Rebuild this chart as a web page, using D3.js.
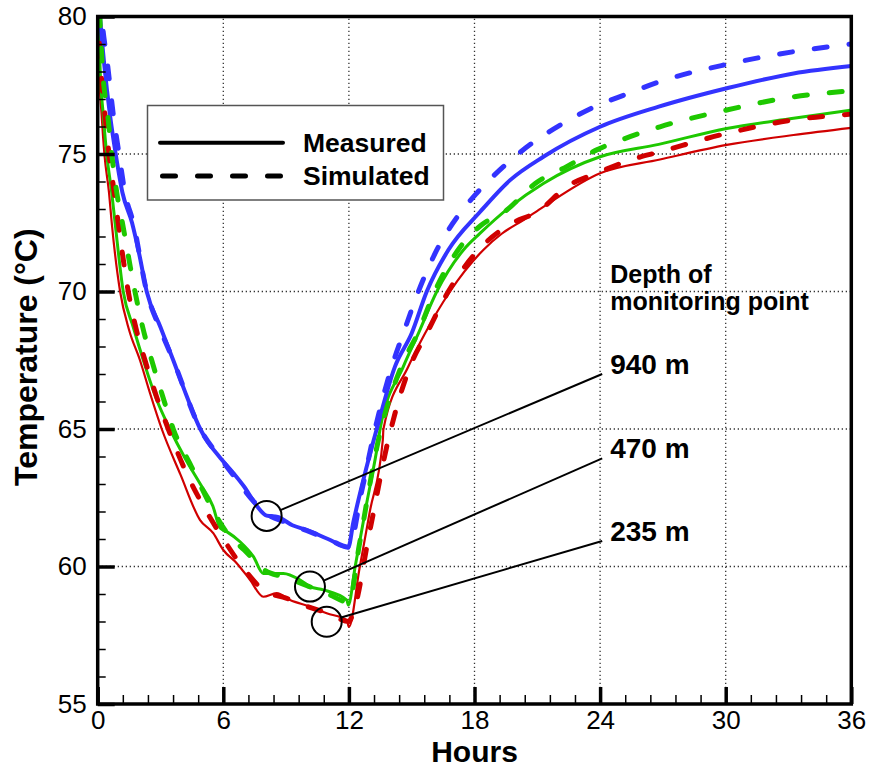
<!DOCTYPE html>
<html>
<head>
<meta charset="utf-8">
<script src="https://cdn.jsdelivr.net/npm/d3@7"></script>
<style>
  body { margin: 0; background: #fff; }
  svg { display: block; font-family: Arial, "Liberation Sans", Helvetica, sans-serif; }
</style>
</head>
<body>
<div id="chart"></div>
<script>
// ticks
let hourTicks = [0, 6, 12, 18, 24, 30, 36];
let tempTicks = [55, 60, 65, 70, 75, 80];

// [hours, temperature]
let measured940 = [[0,81.2],[0.11,80.0],[0.32,78.2],[0.59,76.4],[0.86,75.0],[1.18,73.6],[1.64,72.5],[2.0,71.3],[2.34,70.0],[3.0,68.7],[3.61,67.5],[4.25,66.2],[4.9,65.0],[5.2,64.6],[5.8,64.0],[6.48,63.4],[7.0,62.9],[7.6,62.2],[8.07,61.85],[8.6,61.8],[9.3,61.5],[9.98,61.33],[11.0,61.0],[11.97,60.7],[12.21,61.6],[12.69,63.15],[13.33,65.0],[14.2,67.27],[15.0,68.48],[15.72,70.0],[16.75,71.51],[18.27,72.9],[19.7,74.05],[21.29,74.9],[24.0,75.99],[26.8,76.72],[30.05,77.39],[33.24,77.93],[36,78.2]];
let simulated940 = [[0,82.0],[0.19,80.0],[0.48,78.2],[0.75,76.4],[1.02,75.0],[1.3,73.6],[1.7,72.5],[2.34,70.0],[3.0,68.6],[3.61,67.5],[4.9,65.0],[5.8,64.0],[6.5,63.3],[7.3,62.5],[8.0,61.95],[9.0,61.6],[10.0,61.3],[11.0,61.0],[12.0,60.7],[12.6,62.7],[13.25,65.0],[14.05,67.27],[14.6,68.48],[15.32,70.0],[16.2,71.51],[17.3,72.84],[18.1,73.57],[19.38,74.54],[20.74,75.39],[22.09,76.05],[23.68,76.7],[25.27,77.18],[26.8,77.62],[30.05,78.26],[33.24,78.72],[36,79.0]];
let measured470 = [[0,80.6],[0.06,80.0],[0.11,78.2],[0.27,76.4],[0.43,75.0],[0.67,73.6],[0.83,72.5],[1.22,70.0],[1.7,68.7],[2.18,67.5],[2.8,66.1],[3.45,65.0],[4.2,63.9],[4.9,63.0],[5.5,62.2],[5.85,61.4],[6.2,61.25],[6.8,60.9],[7.44,60.36],[7.91,59.75],[8.87,59.75],[9.67,59.51],[10.14,59.27],[10.78,59.15],[11.9,58.78],[11.97,58.6],[12.3,60.0],[12.8,62.1],[13.41,64.6],[13.49,65.0],[14.6,67.27],[15.32,68.48],[16.2,70.0],[17.47,71.51],[18.27,72.12],[19.7,73.08],[21.29,73.93],[24.0,74.9],[26.8,75.35],[30.05,75.93],[33.24,76.3],[36,76.6]];
let simulated470 = [[0,81.4],[0.1,80.0],[0.22,78.2],[0.48,76.4],[0.67,75.0],[0.91,73.6],[1.18,72.5],[1.78,70.0],[2.15,68.7],[2.58,67.5],[3.1,66.2],[3.61,65.0],[4.5,63.6],[5.4,62.2],[6.2,61.2],[7.0,60.6],[8.0,59.85],[9.0,59.6],[10.0,59.3],[11.0,59.0],[12.0,58.7],[12.5,60.8],[13.41,64.6],[14.5,67.27],[15.3,68.5],[16.1,70.0],[17.3,71.6],[18.3,72.4],[19.54,72.96],[20.9,73.93],[22.4,74.54],[23.84,75.15],[25.43,75.63],[26.86,75.99],[30.05,76.6],[33.24,77.08],[36,77.3]];
let measured235 = [[0,80.2],[0.03,80.0],[0.06,78.2],[0.19,76.4],[0.32,75.0],[0.54,73.6],[0.67,72.5],[1.07,70.0],[1.5,68.6],[2.02,67.5],[2.5,66.3],[3.06,65.0],[3.95,63.35],[4.89,61.69],[5.52,61.21],[6.0,60.6],[6.64,60.12],[7.28,59.51],[7.91,58.9],[8.55,59.03],[9.19,58.78],[10.14,58.54],[10.94,58.3],[11.9,58.05],[12.0,57.8],[12.5,59.9],[13.0,62.0],[13.62,64.6],[13.65,65.0],[14.84,67.27],[15.64,68.48],[16.83,70.0],[18.42,71.51],[19.3,72.1],[20.34,72.6],[21.29,73.08],[24.0,74.3],[26.86,74.8],[30.05,75.33],[33.24,75.69],[36,75.95]];
let simulated235 = [[0,80.3],[0.14,78.2],[0.35,76.4],[0.54,75.0],[0.79,73.6],[0.98,72.5],[1.46,70.0],[1.85,68.6],[2.26,67.5],[2.8,66.2],[3.37,65.0],[4.3,63.3],[5.2,62.0],[6.0,61.0],[7.0,59.9],[8.0,59.1],[9.0,58.85],[10.0,58.55],[11.0,58.3],[12.0,58.0],[12.2,58.3],[13.0,61.3],[13.88,64.6],[14.92,67.27],[15.72,68.48],[16.75,70.0],[18.3,71.6],[19.6,72.4],[21.13,72.96],[22.4,73.81],[23.84,74.3],[25.43,74.78],[26.86,75.08],[30.05,75.75],[33.24,76.24],[36,76.45]];

// depth labels: circle on curve, line end, label text
let depthLabels = ["940 m", "470 m", "235 m"];
let circlePoints = [[8.07, 61.84], [10.14, 59.27], [10.94, 57.99]];
let labelPoints = [[24.1, 67.0], [24.1, 63.93], [24.1, 60.93]];

let width = 869, height = 767;
let margin = {top: 16.5, right: 17.7, bottom: 63, left: 97.7};

let svg = d3.select("#chart").append("svg")
    .attr("width", width)
    .attr("height", height);

let x = d3.scaleLinear().domain([0, 36]).range([margin.left, width - margin.right]);
let y = d3.scaleLinear().domain([55, 80]).range([height - margin.bottom, margin.top]);

svg.append("clipPath").attr("id", "plot")
  .append("rect")
    .attr("x", x(0)).attr("y", y(80))
    .attr("width", x(36) - x(0)).attr("height", y(55) - y(80));

// dotted grid
let grid = svg.append("g").attr("stroke", "#333").attr("stroke-width", 1.3).attr("stroke-dasharray", "1.3,2.7");
grid.selectAll(".vx").data(hourTicks.slice(1, -1)).join("line")
    .attr("x1", d => x(d)).attr("x2", d => x(d))
    .attr("y1", y(55)).attr("y2", y(80));
grid.selectAll(".hy").data(tempTicks.slice(1, -1)).join("line")
    .attr("x1", x(0)).attr("x2", x(36))
    .attr("y1", d => y(d)).attr("y2", d => y(d));

// legend box (covers grid)
let legend = svg.append("g");
legend.append("rect")
    .attr("x", 147.5).attr("y", 105.5).attr("width", 296).attr("height", 94.5)
    .attr("fill", "#fff").attr("stroke", "#555").attr("stroke-width", 1.5);
legend.append("line")
    .attr("x1", 160).attr("x2", 283).attr("y1", 142.7).attr("y2", 142.7)
    .attr("stroke", "#000").attr("stroke-width", 4).attr("stroke-linecap", "round");
legend.append("line")
    .attr("x1", 162.5).attr("x2", 283).attr("y1", 176).attr("y2", 176)
    .attr("stroke", "#000").attr("stroke-width", 5).attr("stroke-linecap", "round")
    .attr("stroke-dasharray", "13,22");
legend.append("text").attr("x", 303).attr("y", 152).text("Measured")
    .attr("font-size", 26.5).attr("font-weight", "bold");
legend.append("text").attr("x", 303).attr("y", 185).text("Simulated")
    .attr("font-size", 26.5).attr("font-weight", "bold");

let line = d3.line().x(d => x(d[0])).y(d => y(d[1])).curve(d3.curveMonotoneX);

let series = [
  {data: measured235, color: "#d00000", dashed: false, w: 2.2},
  {data: measured470, color: "#1ec800", dashed: false, w: 3},
  {data: measured940, color: "#3333ff", dashed: false, w: 4},
  {data: simulated235, color: "#d00000", dashed: true, w: 5},
  {data: simulated470, color: "#1ec800", dashed: true, w: 5},
  {data: simulated940, color: "#3333ff", dashed: true, w: 5}
];

svg.append("g").attr("clip-path", "url(#plot)")
  .selectAll("path").data(series).join("path")
    .attr("d", d => line(d.data))
    .attr("fill", "none")
    .attr("stroke", d => d.color)
    .attr("stroke-width", d => d.w)
    .attr("stroke-linecap", d => d.dashed ? "round" : "butt")
    .attr("stroke-linejoin", "round")
    .attr("stroke-dasharray", d => d.dashed ? "13,22" : null);

// callouts
let callouts = svg.append("g");
callouts.selectAll("circle").data(circlePoints).join("circle")
    .attr("cx", d => x(d[0])).attr("cy", d => y(d[1])).attr("r", 15)
    .attr("fill", "none").attr("stroke", "#000").attr("stroke-width", 2);
callouts.selectAll("line").data(circlePoints).join("line")
    .each(function(d, i) {
      let cx = x(d[0]), cy = y(d[1]);
      let ex = x(labelPoints[i][0]), ey = y(labelPoints[i][1]);
      let a = Math.atan2(ey - cy, ex - cx);
      d3.select(this)
        .attr("x1", cx + 15 * Math.cos(a)).attr("y1", cy + 15 * Math.sin(a))
        .attr("x2", ex).attr("y2", ey);
    })
    .attr("stroke", "#000").attr("stroke-width", 2);
callouts.selectAll("text").data(labelPoints).join("text")
    .attr("x", d => x(d[0]) + 8).attr("y", d => y(d[1]))
    .attr("font-size", 28).attr("font-weight", "bold")
    .text((d, i) => depthLabels[i]);

let depthTitle = svg.append("text")
    .attr("x", x(24.1) + 8).attr("y", y(70.3))
    .attr("font-size", 25).attr("font-weight", "bold");
depthTitle.append("tspan").text("Depth of");
depthTitle.append("tspan").attr("x", x(24.1) + 8).attr("dy", 26.5).text("monitoring point");

// axes
let minorX = d3.range(0, 36.01, 1.2).filter(v => Math.abs(v / 6 - Math.round(v / 6)) > 1e-6);
let minorY = d3.range(55, 80.01, 1).filter(v => v % 5 !== 0);

let styleAxis = (g, w) => {
  g.select(".domain").remove();
  g.selectAll(".tick line").attr("stroke", "#000").attr("stroke-width", w);
  g.selectAll(".tick text").attr("fill", "#000").attr("font-size", 26)
    .attr("font-family", "Arial, 'Liberation Sans', Helvetica, sans-serif");
};

svg.append("g").attr("transform", `translate(0,${y(55)})`)
  .call(d3.axisBottom(x).tickValues(minorX).tickSize(-9).tickFormat(""))
  .call(g => styleAxis(g, 1.5));
svg.append("g").attr("transform", `translate(${x(0)},0)`)
  .call(d3.axisLeft(y).tickValues(minorY).tickSize(-8).tickFormat(""))
  .call(g => styleAxis(g, 1.5));
svg.append("g").attr("transform", `translate(0,${y(55)})`)
  .call(d3.axisBottom(x).tickValues(hourTicks).tickSize(-17).tickPadding(7).tickFormat(d3.format("d")))
  .call(g => styleAxis(g, 3.5));
svg.append("g").attr("transform", `translate(${x(0)},0)`)
  .call(d3.axisLeft(y).tickValues(tempTicks).tickSize(-17).tickPadding(11).tickFormat(d3.format("d")))
  .call(g => styleAxis(g, 3.5));

// frame
svg.append("rect")
    .attr("x", x(0)).attr("y", y(80))
    .attr("width", x(36) - x(0)).attr("height", y(55) - y(80))
    .attr("fill", "none").attr("stroke", "#000").attr("stroke-width", 3.5);

// titles
svg.append("text")
    .attr("x", (x(0) + x(36)) / 2).attr("y", 762)
    .attr("text-anchor", "middle").attr("font-size", 30).attr("font-weight", "bold")
    .text("Hours");
svg.append("text")
    .attr("transform", `translate(37,${(y(55) + y(80)) / 2 - 3}) rotate(-90)`)
    .attr("text-anchor", "middle").attr("font-size", 32).attr("font-weight", "bold")
    .text("Temperature (°C)");
</script>
</body>
</html>
